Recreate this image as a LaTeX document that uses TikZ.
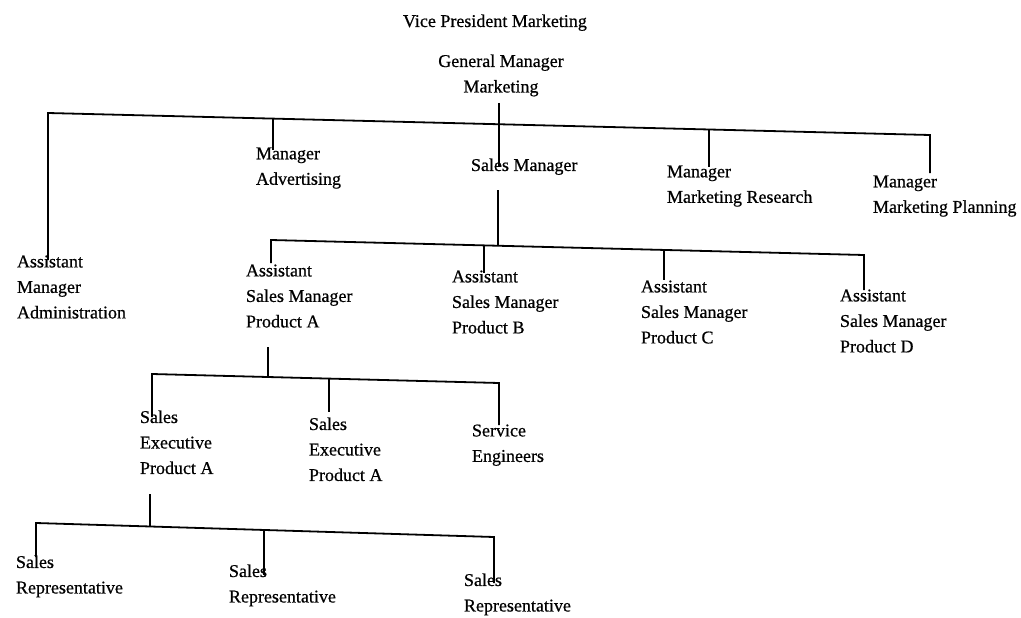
\documentclass[tikz,border=0pt]{standalone}
\usepackage{fontspec}
\setmainfont{Liberation Serif}[FakeBold=0.6]
\begin{document}
\begin{tikzpicture}[x=1pt,y=-1pt,
  lbl/.style={anchor=north west,inner sep=0pt,outer sep=0pt,align=left,
    font=\fontsize{18}{25.5}\selectfont},
  wire/.style={line width=1.8pt,line join=miter}]
\useasboundingbox (0,0) rectangle (1021,618);
% ---- texts ----
\node[lbl] (vp) at (403,14.5) {Vice President Marketing};
\node[lbl,anchor=north,align=center] (gm) at (501,54.5) {General Manager\\Marketing};
\node[lbl] (adv) at (256,147.5) {Manager\\Advertising};
\node[lbl] (sm) at (471,158.5) {Sales Manager};
\node[lbl] (mr) at (667,165.5) {Manager\\Marketing Research};
\node[lbl] (mp) at (873,175.5) {Manager\\Marketing Planning};
\node[lbl] (adm) at (17,255.5) {Assistant\\Manager\\Administration};
\node[lbl] (apa) at (246,264.5) {Assistant\\Sales Manager\\Product A};
\node[lbl] (apb) at (452,270.5) {Assistant\\Sales Manager\\Product B};
\node[lbl] (apc) at (641,280.5) {Assistant\\Sales Manager\\Product C};
\node[lbl] (apd) at (840,289.5) {Assistant\\Sales Manager\\Product D};
\node[lbl] (se1) at (140,410.5) {Sales\\Executive\\Product A};
\node[lbl] (se2) at (309,417.5) {Sales\\Executive\\Product A};
\node[lbl] (svc) at (472,424.5) {Service\\Engineers};
\node[lbl] (sr1) at (16,555.5) {Sales\\Representative};
\node[lbl] (sr2) at (229,564.5) {Sales\\Representative};
\node[lbl] (sr3) at (464,573.5) {Sales\\Representative};
% ---- level 1 ----
\coordinate (gmB) at (499,103);
\coordinate (smT) at (499,167);
\coordinate (b1L) at (48,113);
\coordinate (b1R) at (930,135);
\coordinate (admT) at (48,260);
\coordinate (advJ) at (273,118.6);
\coordinate (advT) at (273,150);
\coordinate (mrJ) at (709,129.5);
\coordinate (mrT) at (709,167);
\coordinate (mpT) at (930,173);
\draw[wire] (admT) -- (b1L) -- (b1R) -- (mpT);
\draw[wire] (gmB) -- (smT);
\draw[wire] (advJ) -- (advT);
\draw[wire] (mrJ) -- (mrT);
% ---- level 2 ----
\coordinate (smB) at (498,190);
\coordinate (b2L) at (271,240);
\coordinate (b2R) at (864,255);
\coordinate (b2M) at (498,245.7);
\coordinate (apaT) at (271,263);
\coordinate (apbJ) at (484,245.4);
\coordinate (apbT) at (484,273);
\coordinate (apcJ) at (664,250.3);
\coordinate (apcT) at (664,280);
\coordinate (apdT) at (864,290);
\draw[wire] (apaT) -- (b2L) -- (b2R) -- (apdT);
\draw[wire] (smB) -- (b2M);
\draw[wire] (apbJ) -- (apbT);
\draw[wire] (apcJ) -- (apcT);
% ---- level 3 ----
\coordinate (apaB) at (268,347);
\coordinate (b3L) at (152,374);
\coordinate (b3R) at (499,383);
\coordinate (b3M) at (268,377);
\coordinate (se1T) at (152,417);
\coordinate (se2J) at (329,378.6);
\coordinate (se2T) at (329,412);
\coordinate (svcT) at (499,425);
\draw[wire] (se1T) -- (b3L) -- (b3R) -- (svcT);
\draw[wire] (apaB) -- (b3M);
\draw[wire] (se2J) -- (se2T);
% ---- level 4 ----
\coordinate (se1B) at (150,494);
\coordinate (b4L) at (36,523);
\coordinate (b4R) at (494,537);
\coordinate (b4M) at (150,526.5);
\coordinate (sr1T) at (36,557);
\coordinate (sr2J) at (264,530);
\coordinate (sr2T) at (264,575);
\coordinate (sr3T) at (494,583);
\draw[wire] (sr1T) -- (b4L) -- (b4R) -- (sr3T);
\draw[wire] (se1B) -- (b4M);
\draw[wire] (sr2J) -- (sr2T);
\end{tikzpicture}
\end{document}
